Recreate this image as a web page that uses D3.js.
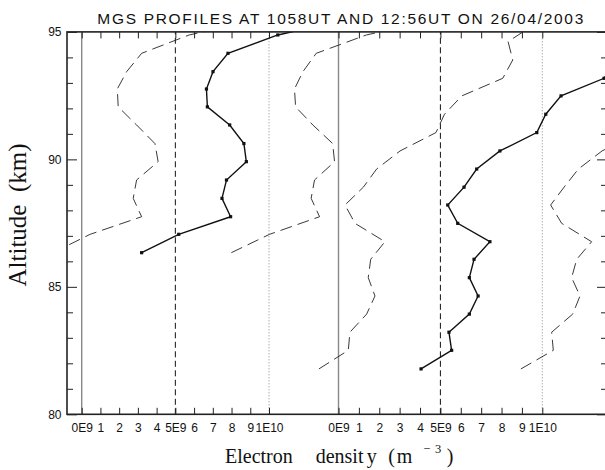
<!DOCTYPE html>
<html><head><meta charset="utf-8">
<script src="https://cdn.jsdelivr.net/npm/d3@7"></script>
<style>body{margin:0;background:#fff;overflow:hidden}</style>
</head><body><svg id="c" width="605" height="470"></svg>
<script>
// ---- data (density in units of 1E9 m^-3, altitude in km) ----
const titleText = "MGS PROFILES AT 1058UT AND 12:56UT ON 26/04/2003";
const altitudeTicks = [80, 85, 90, 95];
const altitudeMinorTicks = [81, 82, 83, 84, 86, 87, 88, 89, 91, 92, 93, 94];
const densityTicks = [0, 1, 2, 3, 4, 5, 6, 7, 8, 9, 10];
const densityTickLabels = ["0E9", "1", "2", "3", "4", "5E9", "6", "7", "8", "9", "1E10"];
const refLines = [0, 5, 10];

// Profile at 10:58 UT (left block)
const altA   = [86.34, 87.06, 87.75, 88.47, 89.19, 89.91, 90.62, 91.35, 92.06, 92.76, 93.44, 94.16, 94.88, 95.60];
const solidA = [3.20, 5.18, 7.95, 7.49, 7.73, 8.79, 8.66, 7.90, 6.71, 6.66, 7.01, 7.81, 10.47, 14.9];
const leftA  = [-1.53, 0.45, 3.20, 2.75, 2.93, 4.08, 3.91, 2.93, 1.95, 1.90, 2.40, 3.20, 5.74, 10.2];
const rightA = [7.99, 10.03, 12.70, 12.25, 12.43, 13.50, 13.40, 12.34, 11.42, 11.36, 11.81, 12.52, 15.2, 19.6];

// Profile at 12:56 UT (right block)
const altB   = [81.78, 82.51, 83.22, 83.93, 84.64, 85.36, 86.08, 86.77, 87.49, 88.21, 88.91, 89.62, 90.33, 91.05, 91.77, 92.49, 93.18, 93.90, 94.62, 95.33];
const solidB = [4.05, 5.55, 5.42, 6.42, 6.85, 6.42, 6.65, 7.43, 5.85, 5.36, 6.16, 6.78, 7.92, 9.73, 10.17, 10.92, 13.03, 13.58, 13.35, 14.72];
const leftB  = [-0.96, 0.48, 0.56, 1.38, 1.79, 1.46, 1.58, 2.28, 0.81, 0.32, 1.22, 1.87, 3.02, 4.78, 5.20, 6.05, 8.06, 8.55, 8.32, 9.69];
const rightB = [8.95, 10.54, 10.46, 11.49, 11.85, 11.44, 11.69, 12.42, 10.95, 10.41, 11.07, 11.77, 12.93, 14.73, 15.17, 15.92, 18.03, 18.58, 18.35, 19.72];

// ---- layout ----
const L = 67, R = 607, T = 31.9, B = 414.3;
const svg = d3.select("#c");
const y = d3.scaleLinear().domain([80, 95]).range([B, T]);
const xA = d3.scaleLinear().domain([0, 10]).range([81.7, 269.0]);
const xB = d3.scaleLinear().domain([0, 10]).range([338.5, 542.3]);

svg.append("defs").append("clipPath").attr("id", "clip")
  .append("rect").attr("x", L).attr("y", T).attr("width", R - L).attr("height", B - T);

const plot = svg.append("g").attr("clip-path", "url(#clip)");

// reference lines
[xA, xB].forEach(x => {
  refLines.forEach((v, i) => {
    const ln = plot.append("line")
      .attr("x1", x(v)).attr("x2", x(v)).attr("y1", y(80)).attr("y2", y(95));
    if (i === 0) ln.attr("stroke", "#888").attr("stroke-width", 1.4);
    else if (i === 1) ln.attr("stroke", "#111").attr("stroke-width", 1).attr("stroke-dasharray", "6,3.5");
    else ln.attr("stroke", "#888").attr("stroke-width", 1).attr("stroke-dasharray", "1,2");
  });
});

function drawProfile(x, alt, vals, dashed) {
  const pts = alt.map((a, i) => [vals[i], a]);
  const line = d3.line().x(d => x(d[0])).y(d => y(d[1]));
  const p = plot.append("path").datum(pts).attr("d", line).attr("fill", "none");
  if (dashed) p.attr("stroke", "#222").attr("stroke-width", 0.9).attr("stroke-dasharray", "12,6");
  else {
    p.attr("stroke", "#111").attr("stroke-width", 1.4);
    plot.selectAll(null).data(pts).enter().append("rect")
      .attr("x", d => x(d[0]) - 1.6).attr("y", d => y(d[1]) - 1.6)
      .attr("width", 3.2).attr("height", 3.2).attr("fill", "#111");
  }
}
drawProfile(xA, altA, leftA, true);
drawProfile(xA, altA, rightA, true);
drawProfile(xA, altA, solidA, false);
drawProfile(xB, altB, leftB, true);
drawProfile(xB, altB, rightB, true);
drawProfile(xB, altB, solidB, false);

// axes
const axFont = "'Liberation Sans', Arial, sans-serif";
function styleAxis(g) {
  g.select(".domain").remove();
  g.selectAll(".tick line").attr("stroke", "#222").attr("stroke-width", 1);
  g.selectAll("text").attr("font-family", axFont).attr("font-size", 12).attr("fill", "#111");
}
svg.append("g").attr("transform", `translate(${L},0)`)
  .call(d3.axisLeft(y).tickValues(altitudeTicks).tickSize(-10).tickPadding(5.5).tickFormat(d3.format("d")))
  .call(styleAxis);
svg.append("g").attr("transform", `translate(${L},0)`)
  .call(d3.axisLeft(y).tickValues(altitudeMinorTicks).tickSize(-6).tickFormat(""))
  .call(styleAxis);
svg.append("g").attr("transform", `translate(${R},0)`)
  .call(d3.axisRight(y).tickValues(altitudeTicks).tickSize(-10).tickFormat(""))
  .call(styleAxis);
svg.append("g").attr("transform", `translate(${R},0)`)
  .call(d3.axisRight(y).tickValues(altitudeMinorTicks).tickSize(-6).tickFormat(""))
  .call(styleAxis);
[xA, xB].forEach(x => {
  svg.append("g").attr("transform", `translate(0,${B})`)
    .call(d3.axisBottom(x).tickValues(densityTicks).tickSize(-6.5).tickPadding(8.8)
      .tickFormat((d, i) => densityTickLabels[i]))
    .call(styleAxis);
  svg.append("g").attr("transform", `translate(0,${T})`)
    .call(d3.axisTop(x).tickValues(densityTicks).tickSize(-6.5).tickFormat(""))
    .call(styleAxis);
});

// frame
svg.append("rect").attr("x", L).attr("y", T).attr("width", R - L).attr("height", B - T)
  .attr("fill", "none").attr("stroke", "#222").attr("stroke-width", 1.6);

// title
svg.append("text").attr("x", 340.3).attr("y", 24).attr("text-anchor", "middle")
  .attr("font-family", axFont).attr("font-size", 15.5).attr("fill", "#111")
  .attr("textLength", 486).attr("lengthAdjust", "spacing")
  .text(titleText);

// y label
svg.append("text").attr("transform", "translate(25.5,215) rotate(-90)")
  .attr("text-anchor", "middle").attr("font-family", "'Liberation Serif', 'Times New Roman', serif")
  .attr("font-size", 25).attr("fill", "#111").style("white-space", "pre")
  .text("Altitude  (km)");

// x label
const serif = "'Liberation Serif', 'Times New Roman', serif";
const xl = svg.append("text").attr("y", 462.7)
  .attr("font-family", serif).attr("font-size", 20).attr("fill", "#111");
xl.append("tspan").attr("x", 225).text("Electron");
xl.append("tspan").attr("x", 315.7).text("densit");
xl.append("tspan").attr("x", 366.7).text("y");
xl.append("tspan").attr("x", 388.3).text("(");
xl.append("tspan").attr("x", 396.7).text("m");
xl.append("tspan").attr("x", 423.3).attr("y", 453).attr("font-size", 12.5).text("\u2212");
xl.append("tspan").attr("x", 435).attr("y", 453).attr("font-size", 12.5).text("3");
xl.append("tspan").attr("x", 446.7).attr("y", 462.7).text(")");
</script></body></html>
